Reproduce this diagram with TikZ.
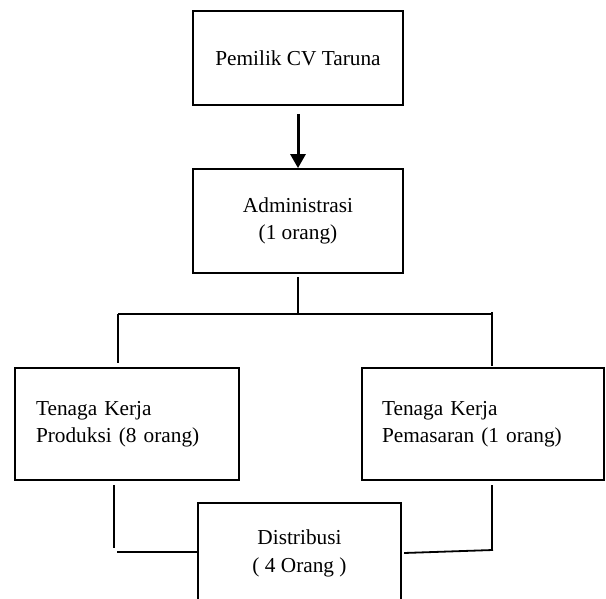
\documentclass[tikz,border=0pt]{standalone}
\usepackage{fontspec}
\setmainfont{Liberation Serif}
\usetikzlibrary{arrows.meta}
\begin{document}
\begin{tikzpicture}[x=1pt,y=-1pt,
  box/.style={draw, line width=1.8pt, inner sep=0pt, align=center,
    font=\fontsize{21.3}{27}\selectfont},
  lbox/.style={draw, line width=1.8pt, inner ysep=0pt, align=left,
    font=\fontsize{21.3}{27}\selectfont},
  conn/.style={line width=1.8pt},
  arr/.style={line width=3pt, -{Triangle[width=15pt,length=14pt]}}]
\useasboundingbox[fill=white] (0,0) rectangle (606,599);
\node[box, minimum width=210pt, minimum height=94pt] (pemilik) at (298,58) {Pemilik CV Taruna};
\node[box, minimum width=210pt, minimum height=104pt] (admin) at (298,221) {Administrasi\\(1 orang)};
\node[lbox, inner xsep=21pt, text width=182pt, minimum height=112pt] (prod) at (127,424) {Tenaga Kerja\\Produksi (8 orang)};
\node[lbox, inner xsep=20pt, text width=202pt, minimum height=112pt] (pemas) at (483,424) {Tenaga Kerja\\Pemasaran (1 orang)};
\node[inner sep=0pt, align=center, minimum width=203pt, minimum height=100pt,
  font=\fontsize{21.3}{28}\selectfont] (dist) at (299.5,553) {Distribusi\\( 4 Orang )};
\draw[conn] (dist.south west) -- (dist.north west) -- (dist.north east) -- (dist.south east);
% connectors
\draw[arr] ([yshift=-8pt]pemilik.south) -- (admin.north);
\coordinate (split) at (298,314);
\coordinate (sl) at (118,314);
\coordinate (sr) at (492,314);
\draw[conn] ([yshift=-3pt]admin.south) -- (split);
\draw[conn] (sl) -- (sr);
\draw[conn] (sl) -- (118,363);
\draw[conn] (492,312) -- (492,366);
\draw[conn] (114,485) -- (114,548);
\draw[conn] (117,552) -- (dist.west |- 117,552);
\draw[conn] (492,485) -- (492,549);
\draw[conn] ([xshift=3pt]dist.east |- 0,553) -- (493,550);
\end{tikzpicture}
\end{document}
